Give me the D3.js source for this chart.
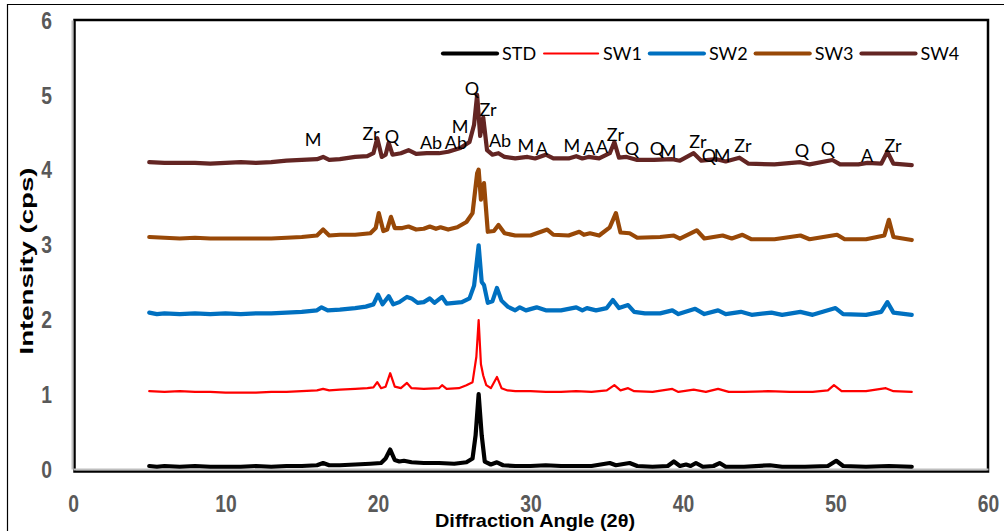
<!DOCTYPE html>
<html>
<head>
<meta charset="utf-8">
<script src="https://cdn.jsdelivr.net/npm/d3@7"></script>
<style>
  body { margin: 0; background: #fff; }
  svg { display: block; }
</style>
</head>
<body>
<script>
// series names and colours
var seriesNames = ["STD", "SW1", "SW2", "SW3", "SW4"];
var seriesColors = ["#000000", "#ff0000", "#0070c0", "#984807", "#632523"];
var seriesWidths = [4.2, 2.2, 4.2, 4.2, 4.2];

// [2theta, intensity]
var stdPoints = [[5,0.04],[5.5,0.03],[6,0.04],[7,0.03],[8,0.04],[9,0.03],[10,0.03],[11,0.03],[12,0.04],[13,0.03],[14,0.04],[15,0.04],[16,0.05],[16.4,0.08],[16.8,0.05],[17.5,0.05],[18.5,0.06],[19.5,0.07],[20.2,0.08],[20.5,0.14],[20.8,0.26],[21.1,0.12],[21.4,0.10],[21.7,0.11],[22.2,0.09],[23,0.08],[24,0.08],[25,0.07],[25.8,0.09],[26.2,0.14],[26.4,0.45],[26.6,1.0],[26.8,0.45],[27.0,0.1],[27.4,0.06],[27.8,0.09],[28.2,0.05],[29,0.04],[30,0.04],[31,0.05],[32,0.04],[33,0.04],[34,0.04],[35.2,0.08],[35.6,0.05],[36.5,0.08],[37,0.04],[38,0.03],[39,0.04],[39.4,0.10],[39.8,0.04],[40.2,0.06],[40.5,0.04],[40.85,0.08],[41.3,0.03],[42,0.04],[42.4,0.08],[42.8,0.03],[44,0.03],[45.7,0.05],[46.5,0.03],[48,0.03],[49.5,0.04],[50.05,0.11],[50.5,0.04],[52,0.03],[53.5,0.04],[55,0.03]];

var sw1Points = [[5,1.04],[6,1.03],[7,1.04],[8,1.03],[9,1.03],[10,1.02],[11,1.02],[12,1.02],[13,1.03],[14,1.03],[15,1.04],[16,1.05],[16.4,1.07],[16.8,1.05],[17.5,1.06],[18.5,1.07],[19.3,1.08],[19.7,1.09],[19.95,1.16],[20.2,1.08],[20.5,1.1],[20.8,1.28],[21.1,1.1],[21.5,1.08],[21.9,1.15],[22.2,1.08],[23,1.07],[24,1.08],[24.2,1.12],[24.5,1.07],[25.3,1.08],[25.8,1.12],[26.2,1.16],[26.45,1.5],[26.6,1.99],[26.75,1.4],[26.9,1.25],[27.1,1.12],[27.4,1.08],[27.8,1.23],[28.1,1.08],[28.5,1.05],[29,1.04],[30,1.04],[31,1.03],[32,1.03],[33,1.04],[34,1.03],[35,1.05],[35.5,1.12],[35.9,1.05],[36.4,1.08],[36.8,1.04],[38,1.03],[39.3,1.07],[39.7,1.03],[40.7,1.06],[41.5,1.03],[42.3,1.07],[43,1.03],[44,1.03],[45.6,1.04],[47,1.03],[48.5,1.03],[49.5,1.05],[49.9,1.12],[50.4,1.04],[52,1.04],[53.3,1.08],[53.8,1.04],[55,1.03]];

var sw2Points = [[5,2.09],[5.5,2.07],[6,2.08],[7,2.07],[8,2.08],[9,2.07],[10,2.08],[11,2.07],[12,2.08],[13,2.08],[14,2.09],[15,2.1],[16,2.12],[16.3,2.16],[16.7,2.12],[17.5,2.13],[18.5,2.15],[19.2,2.17],[19.7,2.2],[20.0,2.33],[20.3,2.2],[20.7,2.31],[21.0,2.2],[21.4,2.23],[21.9,2.3],[22.2,2.28],[22.6,2.22],[23.0,2.23],[23.4,2.28],[23.7,2.22],[24.2,2.30],[24.5,2.21],[25.0,2.22],[25.5,2.23],[26.0,2.28],[26.3,2.45],[26.6,2.99],[26.8,2.5],[26.95,2.46],[27.2,2.22],[27.5,2.24],[27.8,2.42],[28.1,2.25],[28.5,2.17],[29,2.12],[29.3,2.16],[29.7,2.12],[30.4,2.16],[31,2.12],[32,2.12],[33.0,2.16],[33.4,2.12],[33.7,2.15],[34.3,2.12],[35.0,2.15],[35.4,2.26],[35.8,2.15],[36.4,2.19],[36.8,2.1],[37.5,2.08],[38.5,2.08],[39.3,2.12],[39.7,2.07],[40.8,2.14],[41.4,2.07],[42.3,2.12],[42.8,2.07],[43.8,2.1],[44.5,2.06],[45.8,2.09],[46.5,2.06],[47.7,2.1],[48.5,2.06],[50.0,2.15],[50.5,2.07],[52,2.06],[53.0,2.1],[53.4,2.23],[53.8,2.09],[55,2.06]];

var sw3Points = [[5,3.10],[6,3.09],[7,3.08],[8,3.09],[9,3.08],[10,3.08],[11,3.08],[12,3.08],[13,3.08],[14,3.09],[15,3.1],[16,3.12],[16.4,3.2],[16.8,3.12],[17.5,3.13],[18.5,3.13],[19.5,3.15],[19.85,3.22],[20.05,3.42],[20.35,3.18],[20.6,3.2],[20.85,3.37],[21.1,3.22],[21.6,3.22],[22.0,3.24],[22.5,3.2],[23.0,3.21],[23.4,3.24],[23.8,3.21],[24.1,3.23],[24.6,3.2],[25.2,3.23],[25.8,3.30],[26.2,3.42],[26.5,3.95],[26.6,4.0],[26.75,3.6],[26.95,3.82],[27.2,3.17],[27.6,3.18],[27.9,3.26],[28.3,3.15],[29,3.12],[30,3.12],[31.1,3.2],[31.5,3.13],[32.5,3.12],[33.2,3.17],[33.5,3.13],[33.9,3.15],[34.5,3.12],[35.2,3.23],[35.6,3.42],[35.9,3.16],[36.5,3.15],[37,3.09],[38.5,3.1],[39.4,3.12],[39.8,3.08],[40.9,3.19],[41.4,3.08],[42.6,3.12],[43.2,3.08],[43.9,3.13],[44.5,3.07],[46,3.07],[47.7,3.12],[48.3,3.07],[50.1,3.13],[50.6,3.07],[52,3.07],[53.2,3.12],[53.5,3.33],[53.8,3.1],[55,3.06]];

var sw4Points = [[5,4.10],[6,4.09],[7,4.09],[8,4.09],[9,4.08],[10,4.09],[11,4.1],[12,4.09],[13,4.1],[14,4.12],[15,4.13],[16,4.14],[16.4,4.17],[16.8,4.13],[17.5,4.14],[18.5,4.17],[19.3,4.18],[19.7,4.22],[19.95,4.42],[20.25,4.17],[20.5,4.2],[20.7,4.36],[20.95,4.2],[21.5,4.22],[22.0,4.26],[22.5,4.21],[23.2,4.22],[24,4.22],[24.6,4.24],[25.4,4.29],[26.0,4.37],[26.3,4.6],[26.5,5.0],[26.7,4.45],[26.9,4.7],[27.15,4.26],[27.5,4.2],[27.9,4.22],[28.3,4.17],[29,4.15],[29.8,4.17],[30.3,4.15],[31.0,4.2],[31.5,4.15],[32.5,4.15],[33.0,4.18],[33.4,4.15],[33.8,4.17],[34.5,4.15],[35.2,4.22],[35.5,4.37],[35.8,4.16],[36.3,4.17],[37,4.13],[38.1,4.13],[39.3,4.14],[39.8,4.12],[40.7,4.22],[41.2,4.12],[42.2,4.14],[42.8,4.11],[43.7,4.16],[44.3,4.08],[46,4.07],[47.7,4.1],[48.3,4.07],[49.8,4.13],[50.3,4.07],[51.5,4.07],[52.1,4.09],[53.0,4.08],[53.4,4.24],[53.8,4.08],[55,4.06]];

// phase labels over the SW4 pattern
var peakText   = ["M","Zr","Q","Ab","Ab","M","Q","Zr","Ab","M","A","M","A","A","Zr","Q","Q","M","Zr","Q","M","Zr","Q","Q","A","Zr"];
var peakAngle  = [15.74,19.54,20.92,23.48,25.11,25.38,26.16,27.21,28.0,29.7,30.75,32.72,33.84,34.69,35.57,36.66,38.3,39.02,40.98,41.7,42.56,43.93,47.8,49.51,52.07,53.77];
var peakLevel  = [4.32,4.40,4.36,4.27,4.27,4.49,5.0,4.72,4.30,4.24,4.20,4.24,4.20,4.22,4.38,4.20,4.20,4.16,4.29,4.10,4.10,4.24,4.17,4.20,4.10,4.24];

var xTicks = [0, 10, 20, 30, 40, 50, 60];
var yTicks = [0, 1, 2, 3, 4, 5, 6];

var allSeries = [stdPoints, sw1Points, sw2Points, sw3Points, sw4Points];

var W = 1004, H = 531;
var plotL = 73, plotR = 988, plotT = 20, plotB = 469;

var svg = d3.select("body").append("svg")
  .attr("width", W)
  .attr("height", H);

svg.append("rect").attr("width", W).attr("height", H).attr("fill", "#fff");

// outer frame (only left and top show)
svg.append("path")
  .attr("d", "M7.5," + H + "V4.5H" + W)
  .attr("fill", "none")
  .attr("stroke", "#000")
  .attr("stroke-width", 1.2);

var x = d3.scaleLinear().domain([0, 60]).range([plotL, plotR]);
var y = d3.scaleLinear().domain([0, 6]).range([plotB, plotT]);

// plot box
svg.append("rect")
  .attr("x", plotL + 1.5).attr("y", plotT)
  .attr("width", plotR - plotL - 1.5).attr("height", plotB - plotT + 2.5)
  .attr("fill", "none")
  .attr("stroke", "#000")
  .attr("stroke-width", 2.5);

// condensed look for tick numbers
var tickFont = "bold 23px 'Liberation Sans', sans-serif";
var squeeze = 0.84;

var xAxis = svg.append("g")
  .attr("transform", "translate(0," + plotB + ")")
  .call(d3.axisBottom(x).tickValues(xTicks).tickSize(0).tickFormat(d3.format("d")));
xAxis.select(".domain").attr("stroke", "#bfbfbf").attr("stroke-width", 2);
xAxis.selectAll("text")
  .attr("y", 43).attr("dy", null)
  .attr("transform", "scale(" + squeeze + ",1)")
  .attr("fill", "#595959")
  .style("font", tickFont);

var yAxis = svg.append("g")
  .attr("transform", "translate(" + (plotL - 1) + ",0)")
  .call(d3.axisLeft(y).tickValues(yTicks).tickSize(0).tickFormat(d3.format("d")));
yAxis.select(".domain").attr("stroke", "#bfbfbf").attr("stroke-width", 2);
yAxis.selectAll("text")
  .attr("x", -20 / squeeze).attr("dy", "0.36em")
  .attr("transform", "scale(" + squeeze + ",1)")
  .attr("fill", "#595959")
  .style("font", tickFont);

var line = d3.line()
  .x(function(d) { return x(d[0]); })
  .y(function(d) { return y(d[1]); });

svg.selectAll(".series")
  .data(allSeries)
  .enter().append("path")
  .attr("class", "series")
  .attr("d", line)
  .attr("fill", "none")
  .attr("stroke", function(d, i) { return seriesColors[i]; })
  .attr("stroke-width", function(d, i) { return seriesWidths[i]; })
  .attr("stroke-linejoin", "round")
  .attr("stroke-linecap", "round");

// phase labels
svg.selectAll(".peak")
  .data(peakText)
  .enter().append("text")
  .attr("class", "peak")
  .attr("x", function(d, i) { return x(peakAngle[i]); })
  .attr("y", function(d, i) { return y(peakLevel[i]); })
  .attr("text-anchor", "middle")
  .style("font", "18px Lato, sans-serif")
  .attr("fill", "#000")
  .text(function(d) { return d; });

// legend
var lx = 443;
seriesNames.forEach(function(name, i) {
  svg.append("line")
    .attr("x1", lx).attr("x2", lx + 54)
    .attr("y1", 53.5).attr("y2", 53.5)
    .attr("stroke", seriesColors[i])
    .attr("stroke-width", seriesWidths[i])
    .attr("stroke-linecap", "round");
  var t = svg.append("text")
    .attr("x", lx + 59).attr("y", 60)
    .style("font", "18px Lato, sans-serif")
    .attr("fill", "#000")
    .text(name);
  lx = lx + 59 + t.node().getComputedTextLength() + 8;
});

// axis titles
svg.append("text")
  .attr("x", 535).attr("y", 527)
  .attr("text-anchor", "middle")
  .attr("textLength", 200)
  .attr("lengthAdjust", "spacingAndGlyphs")
  .style("font", "bold 19px 'Liberation Sans', sans-serif")
  .attr("fill", "#000")
  .text("Diffraction Angle (2\u03b8)");

svg.append("text")
  .attr("transform", "translate(33,261) rotate(-90)")
  .attr("text-anchor", "middle")
  .attr("textLength", 187)
  .attr("lengthAdjust", "spacingAndGlyphs")
  .style("font", "bold 19px 'Liberation Sans', sans-serif")
  .attr("fill", "#000")
  .text("Intensity (cps)");
</script>
</body>
</html>
